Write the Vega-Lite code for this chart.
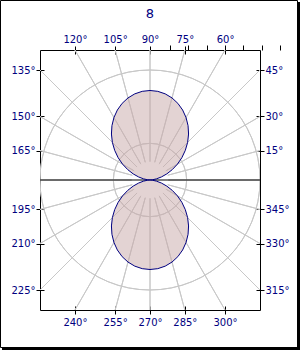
{
  "$schema": "https://vega.github.io/schema/vega-lite/v6.json",
  "width": 220,
  "height": 260,
  "autosize": {"type": "none"},
  "padding": {"left": 40, "top": 50, "right": 40, "bottom": 40},
  "background": "white",
  "title": {"text": "8", "fontSize": 13, "font": "DejaVu Sans", "fontWeight": "normal", "color": "#000080", "anchor": "middle", "baseline": "alphabetic", "offset": -17, "dy": 14},
  "config": {
    "font": "DejaVu Sans",
    "view": {"stroke": "black", "strokeWidth": 1},
    "axis": {"labelFont": "DejaVu Sans", "labelFontSize": 10, "labelColor": "#000080", "tickColor": "black", "domainColor": "black", "grid": false, "title": null, "labelFlush": false, "labelBound": false, "labelOverlap": false, "zindex": 1}
  },
  "datasets": {
    "frame": [{"x0": -8.1545, "x1": 8.0455, "y0": 9.7909, "y1": -9.1364}],
    "shadow": [
      {"x0": 8.1, "x1": 8.1, "y0": 9.7091, "y1": -9.2727},
      {"x0": -8.0727, "x1": 8.1818, "y0": -9.1909, "y1": -9.1909}
    ],
    "circles": [{"r": 2}, {"r": 4}, {"r": 6}, {"r": 8}],
    "spokes": [{"a": 0}, {"a": 15}, {"a": 30}, {"a": 45}, {"a": 60}, {"a": 75}, {"a": 90}, {"a": 105}, {"a": 120}, {"a": 135}, {"a": 150}, {"a": 165}, {"a": 180}, {"a": 195}, {"a": 210}, {"a": 225}, {"a": 240}, {"a": 255}, {"a": 270}, {"a": 285}, {"a": 300}, {"a": 315}, {"a": 330}, {"a": 345}],
    "center": [{"x0": -6, "x1": 6, "y": 0}],
    "upper": [
      {"i": 0, "x": 0, "y": 0}, {"i": 1, "x": 0.125, "y": 0.011}, {"i": 2, "x": 0.348, "y": 0.061}, {"i": 3, "x": 0.621, "y": 0.166},
      {"i": 4, "x": 0.918, "y": 0.334}, {"i": 5, "x": 1.216, "y": 0.567}, {"i": 6, "x": 1.495, "y": 0.863}, {"i": 7, "x": 1.737, "y": 1.216},
      {"i": 8, "x": 1.927, "y": 1.617}, {"i": 9, "x": 2.053, "y": 2.053}, {"i": 10, "x": 2.104, "y": 2.507}, {"i": 11, "x": 2.076, "y": 2.965},
      {"i": 12, "x": 1.967, "y": 3.408}, {"i": 13, "x": 1.78, "y": 3.818}, {"i": 14, "x": 1.521, "y": 4.179}, {"i": 15, "x": 1.2, "y": 4.477},
      {"i": 16, "x": 0.829, "y": 4.699}, {"i": 17, "x": 0.423, "y": 4.836}, {"i": 18, "x": 0, "y": 4.882}, {"i": 19, "x": -0.423, "y": 4.836},
      {"i": 20, "x": -0.829, "y": 4.699}, {"i": 21, "x": -1.2, "y": 4.477}, {"i": 22, "x": -1.521, "y": 4.179}, {"i": 23, "x": -1.78, "y": 3.818},
      {"i": 24, "x": -1.967, "y": 3.408}, {"i": 25, "x": -2.076, "y": 2.965}, {"i": 26, "x": -2.104, "y": 2.507}, {"i": 27, "x": -2.053, "y": 2.053},
      {"i": 28, "x": -1.927, "y": 1.617}, {"i": 29, "x": -1.737, "y": 1.216}, {"i": 30, "x": -1.495, "y": 0.863}, {"i": 31, "x": -1.216, "y": 0.567},
      {"i": 32, "x": -0.918, "y": 0.334}, {"i": 33, "x": -0.621, "y": 0.166}, {"i": 34, "x": -0.348, "y": 0.061}, {"i": 35, "x": -0.125, "y": 0.011},
      {"i": 36, "x": 0, "y": 0}
    ],
    "lower": [
      {"i": 0, "x": 0, "y": 0}, {"i": 1, "x": -0.125, "y": -0.011}, {"i": 2, "x": -0.348, "y": -0.061}, {"i": 3, "x": -0.621, "y": -0.166},
      {"i": 4, "x": -0.918, "y": -0.334}, {"i": 5, "x": -1.216, "y": -0.567}, {"i": 6, "x": -1.495, "y": -0.863}, {"i": 7, "x": -1.737, "y": -1.216},
      {"i": 8, "x": -1.927, "y": -1.617}, {"i": 9, "x": -2.053, "y": -2.053}, {"i": 10, "x": -2.104, "y": -2.507}, {"i": 11, "x": -2.076, "y": -2.965},
      {"i": 12, "x": -1.967, "y": -3.408}, {"i": 13, "x": -1.78, "y": -3.818}, {"i": 14, "x": -1.521, "y": -4.179}, {"i": 15, "x": -1.2, "y": -4.477},
      {"i": 16, "x": -0.829, "y": -4.699}, {"i": 17, "x": -0.423, "y": -4.836}, {"i": 18, "x": 0, "y": -4.882}, {"i": 19, "x": 0.423, "y": -4.836},
      {"i": 20, "x": 0.829, "y": -4.699}, {"i": 21, "x": 1.2, "y": -4.477}, {"i": 22, "x": 1.521, "y": -4.179}, {"i": 23, "x": 1.78, "y": -3.818},
      {"i": 24, "x": 1.967, "y": -3.408}, {"i": 25, "x": 2.076, "y": -2.965}, {"i": 26, "x": 2.104, "y": -2.507}, {"i": 27, "x": 2.053, "y": -2.053},
      {"i": 28, "x": 1.927, "y": -1.617}, {"i": 29, "x": 1.737, "y": -1.216}, {"i": 30, "x": 1.495, "y": -0.863}, {"i": 31, "x": 1.216, "y": -0.567},
      {"i": 32, "x": 0.918, "y": -0.334}, {"i": 33, "x": 0.621, "y": -0.166}, {"i": 34, "x": 0.348, "y": -0.061}, {"i": 35, "x": 0.125, "y": -0.011},
      {"i": 36, "x": 0, "y": 0}
    ]
  },
  "resolve": {"axis": {"x": "independent", "y": "independent"}},
  "layer": [
    {
      "data": {"name": "frame"},
      "mark": {"type": "rect", "fill": null, "filled": false, "stroke": "black", "strokeWidth": 1, "clip": false},
      "encoding": {
        "x": {"field": "x0", "type": "quantitative", "axis": null, "scale": {"domain": [-6, 6], "nice": false, "zero": false}},
        "x2": {"field": "x1"},
        "y": {"field": "y0", "type": "quantitative", "axis": null, "scale": {"domain": [-7.090909, 7.090909], "nice": false, "zero": false}},
        "y2": {"field": "y1"}
      }
    },
    {
      "data": {"name": "shadow"},
      "mark": {"type": "rule", "color": "black", "strokeWidth": 3, "clip": false},
      "encoding": {
        "x": {"field": "x0", "type": "quantitative", "axis": null},
        "x2": {"field": "x1"},
        "y": {"field": "y0", "type": "quantitative", "axis": null},
        "y2": {"field": "y1"}
      }
    },
    {
      "data": {"name": "circles"},
      "mark": {"type": "arc", "filled": false, "stroke": "#c8c8c8", "strokeWidth": 1, "theta": 0, "theta2": 6.2832, "clip": true},
      "encoding": {
        "radius": {"field": "r", "type": "quantitative", "scale": {"type": "linear", "domain": [0, 8], "range": [0, 146.667], "zero": true}}
      }
    },
    {
      "data": {"name": "spokes"},
      "mark": {"type": "arc", "filled": false, "stroke": "#c8c8c8", "strokeWidth": 1, "clip": true},
      "encoding": {
        "theta": {"field": "a", "type": "quantitative", "stack": null, "scale": {"type": "linear", "domain": [0, 360], "range": [0, 6.283185]}},
        "theta2": {"field": "a"},
        "radius": {"datum": 9.6, "type": "quantitative"},
        "radius2": {"datum": 1}
      }
    },
    {
      "data": {"name": "center"},
      "mark": {"type": "rule", "color": "black", "strokeWidth": 1},
      "encoding": {
        "x": {"field": "x0", "type": "quantitative", "axis": {"orient": "top", "position": 130, "values": [-6, -5, -4, -3, -2, -1, 0, 1, 2, 3, 4, 5, 6], "labels": false, "domain": false, "tickSize": 5}},
        "x2": {"field": "x1"},
        "y": {"field": "y", "type": "quantitative", "axis": null}
      }
    },
    {
      "data": {"name": "upper"},
      "mark": {"type": "line", "stroke": "#000080", "strokeWidth": 1, "fill": "#c7a7a7", "fillOpacity": 0.5, "interpolate": "linear-closed"},
      "encoding": {
        "x": {"field": "x", "type": "quantitative", "axis": {"orient": "bottom", "values": [-4.094, -1.9, 0, 1.9, 4.094], "labelExpr": "round(270 + atan(datum.value/7.090909)*180/PI) + '°'", "offset": -4, "tickSize": 8, "domain": false, "labelPadding": 3}},
        "y": {"field": "y", "type": "quantitative", "axis": {"orient": "left", "values": [6, 3.4641, 1.6077, -1.6077, -3.4641, -6], "labelExpr": "round(180 - atan(datum.value/6)*180/PI) + '°'", "offset": -4, "tickSize": 8, "domain": false, "labelPadding": 1}},
        "order": {"field": "i", "type": "quantitative"}
      }
    },
    {
      "data": {"name": "lower"},
      "mark": {"type": "line", "stroke": "#000080", "strokeWidth": 1, "fill": "#c7a7a7", "fillOpacity": 0.5, "interpolate": "linear-closed"},
      "encoding": {
        "x": {"field": "x", "type": "quantitative", "axis": {"orient": "top", "values": [-4.094, -1.9, 0, 1.9, 4.094], "labelExpr": "round(90 - atan(datum.value/7.090909)*180/PI) + '°'", "offset": -4, "tickSize": 8, "domain": false, "labelPadding": 2}},
        "y": {"field": "y", "type": "quantitative", "axis": {"orient": "right", "values": [6, 3.4641, 1.6077, -1.6077, -3.4641, -6], "labelExpr": "(datum.value > 0 ? round(atan(datum.value/6)*180/PI) : round(360 + atan(datum.value/6)*180/PI)) + '°'", "offset": -4, "tickSize": 8, "domain": false, "labelPadding": 1}},
        "order": {"field": "i", "type": "quantitative"}
      }
    }
  ]
}
